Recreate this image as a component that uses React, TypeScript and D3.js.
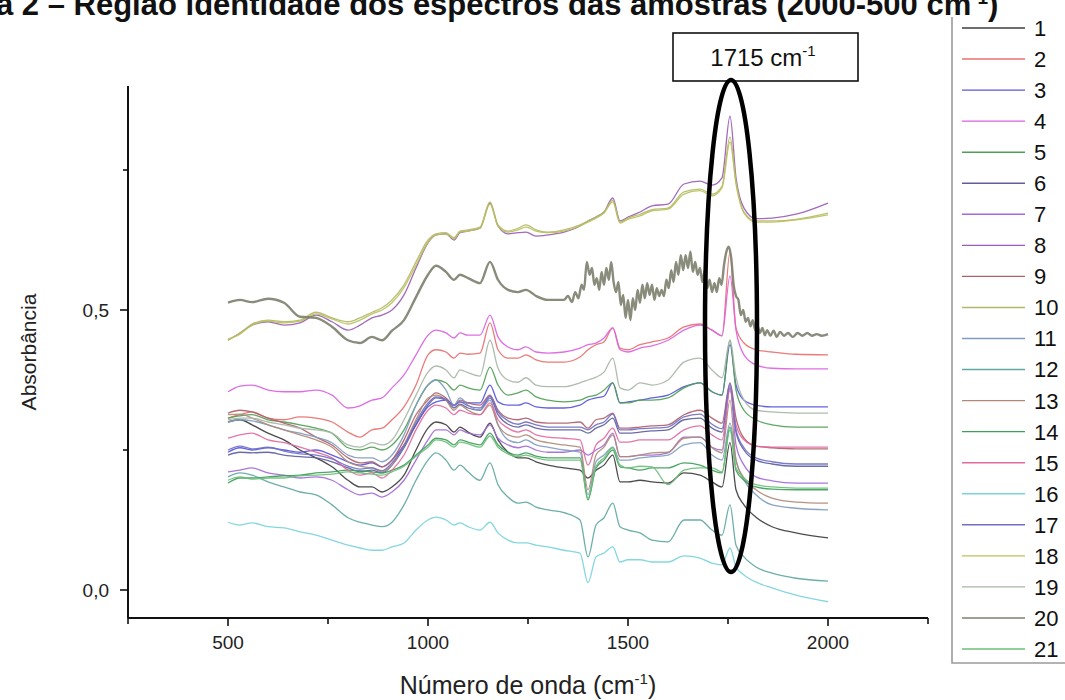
import React from "react";
import * as d3 from "d3";

// ---- data ----
const wavenumbers = [500, 530, 560, 600, 640, 680, 720, 760, 800, 830, 860, 885, 910, 940, 970, 1000, 1020, 1045, 1065, 1080, 1100, 1130, 1155, 1175, 1200, 1225, 1245, 1270, 1300, 1340, 1380, 1400, 1420, 1440, 1462, 1480, 1500, 1530, 1560, 1600, 1640, 1680, 1710, 1735, 1755, 1770, 1790, 1820, 1860, 1920, 2000];

const s1 = [0.300,0.304,0.295,0.280,0.268,0.250,0.236,0.220,0.196,0.184,0.184,0.175,0.184,0.205,0.250,0.289,0.300,0.295,0.282,0.291,0.282,0.273,0.298,0.268,0.246,0.236,0.236,0.229,0.223,0.218,0.214,0.200,0.214,0.223,0.241,0.193,0.193,0.196,0.193,0.191,0.209,0.205,0.193,0.184,0.263,0.179,0.152,0.130,0.113,0.102,0.093];
const s2 = [0.307,0.313,0.318,0.307,0.304,0.309,0.307,0.300,0.282,0.273,0.286,0.289,0.304,0.327,0.366,0.420,0.429,0.425,0.414,0.423,0.421,0.423,0.477,0.429,0.414,0.414,0.420,0.411,0.407,0.407,0.416,0.429,0.438,0.443,0.468,0.432,0.429,0.438,0.443,0.450,0.470,0.475,0.464,0.454,0.604,0.468,0.441,0.429,0.425,0.421,0.420];
const s3 = [0.246,0.254,0.250,0.254,0.250,0.246,0.250,0.241,0.229,0.223,0.227,0.220,0.232,0.259,0.295,0.327,0.336,0.339,0.330,0.336,0.334,0.334,0.366,0.336,0.330,0.330,0.334,0.327,0.325,0.325,0.330,0.339,0.343,0.346,0.370,0.334,0.336,0.339,0.343,0.348,0.363,0.370,0.354,0.348,0.438,0.366,0.339,0.330,0.327,0.327,0.327];
const s4 = [0.354,0.364,0.366,0.357,0.354,0.354,0.357,0.348,0.325,0.329,0.339,0.343,0.361,0.384,0.420,0.455,0.464,0.459,0.450,0.459,0.455,0.455,0.491,0.452,0.434,0.429,0.434,0.425,0.423,0.425,0.432,0.438,0.441,0.450,0.468,0.429,0.425,0.432,0.436,0.446,0.464,0.473,0.464,0.454,0.561,0.464,0.420,0.402,0.396,0.395,0.395];
const s5 = [0.307,0.311,0.313,0.304,0.300,0.295,0.289,0.280,0.254,0.250,0.255,0.250,0.259,0.286,0.330,0.366,0.375,0.370,0.357,0.366,0.361,0.357,0.398,0.366,0.348,0.352,0.357,0.345,0.339,0.336,0.339,0.345,0.348,0.357,0.370,0.334,0.334,0.339,0.339,0.343,0.361,0.370,0.354,0.348,0.446,0.357,0.321,0.304,0.295,0.291,0.291];
const s6 = [0.241,0.246,0.245,0.246,0.241,0.238,0.236,0.229,0.218,0.211,0.214,0.209,0.223,0.254,0.295,0.330,0.343,0.339,0.325,0.332,0.325,0.321,0.343,0.313,0.296,0.291,0.295,0.289,0.286,0.286,0.286,0.280,0.289,0.295,0.307,0.280,0.280,0.282,0.284,0.286,0.304,0.307,0.289,0.282,0.361,0.282,0.250,0.232,0.225,0.221,0.221];
const s7 = [0.211,0.214,0.218,0.209,0.205,0.200,0.202,0.196,0.179,0.170,0.173,0.166,0.175,0.196,0.232,0.268,0.286,0.286,0.277,0.286,0.280,0.277,0.295,0.271,0.259,0.254,0.257,0.250,0.246,0.246,0.250,0.241,0.250,0.259,0.280,0.238,0.238,0.241,0.241,0.245,0.273,0.273,0.255,0.250,0.366,0.259,0.223,0.202,0.195,0.191,0.191];
const s8 = [0.446,0.459,0.473,0.479,0.473,0.477,0.491,0.479,0.464,0.473,0.486,0.491,0.500,0.527,0.575,0.620,0.634,0.636,0.625,0.638,0.641,0.646,0.691,0.650,0.636,0.638,0.639,0.632,0.634,0.639,0.650,0.659,0.666,0.675,0.700,0.659,0.666,0.675,0.686,0.689,0.725,0.730,0.723,0.736,0.846,0.736,0.682,0.663,0.664,0.671,0.691];
const s9 = [0.316,0.321,0.318,0.307,0.298,0.289,0.273,0.259,0.236,0.227,0.229,0.220,0.232,0.268,0.313,0.339,0.352,0.343,0.330,0.339,0.334,0.330,0.348,0.321,0.307,0.304,0.307,0.300,0.298,0.298,0.300,0.289,0.304,0.307,0.316,0.289,0.289,0.291,0.293,0.295,0.313,0.321,0.307,0.298,0.370,0.307,0.271,0.257,0.254,0.252,0.252];
const s10 = [0.446,0.459,0.475,0.482,0.479,0.482,0.496,0.486,0.479,0.486,0.496,0.504,0.518,0.545,0.586,0.625,0.636,0.638,0.629,0.641,0.643,0.648,0.693,0.652,0.641,0.646,0.652,0.643,0.639,0.643,0.652,0.659,0.666,0.675,0.696,0.657,0.664,0.671,0.679,0.682,0.711,0.716,0.707,0.721,0.809,0.729,0.675,0.659,0.659,0.662,0.673];
const s11 = [0.300,0.304,0.302,0.295,0.286,0.280,0.273,0.263,0.241,0.236,0.236,0.229,0.241,0.277,0.330,0.366,0.375,0.357,0.330,0.343,0.330,0.321,0.339,0.295,0.268,0.263,0.268,0.259,0.255,0.250,0.246,0.170,0.229,0.241,0.255,0.232,0.232,0.236,0.238,0.241,0.259,0.263,0.241,0.232,0.298,0.232,0.196,0.170,0.152,0.146,0.143];
const s12 = [0.202,0.209,0.205,0.193,0.184,0.175,0.170,0.152,0.129,0.121,0.116,0.113,0.121,0.152,0.196,0.232,0.245,0.232,0.214,0.223,0.211,0.196,0.227,0.188,0.166,0.155,0.157,0.148,0.143,0.138,0.125,0.059,0.116,0.129,0.155,0.113,0.107,0.102,0.089,0.086,0.125,0.125,0.107,0.098,0.152,0.080,0.059,0.041,0.030,0.021,0.016];
const s13 = [0.313,0.314,0.307,0.295,0.286,0.277,0.268,0.255,0.229,0.221,0.218,0.211,0.223,0.259,0.304,0.343,0.348,0.339,0.321,0.330,0.321,0.313,0.330,0.295,0.277,0.273,0.277,0.268,0.263,0.259,0.255,0.179,0.241,0.255,0.277,0.238,0.238,0.241,0.245,0.246,0.271,0.273,0.254,0.245,0.339,0.232,0.200,0.179,0.164,0.157,0.155];
const s14 = [0.191,0.200,0.200,0.202,0.204,0.205,0.209,0.211,0.214,0.213,0.211,0.209,0.214,0.223,0.241,0.259,0.271,0.268,0.259,0.268,0.264,0.259,0.280,0.259,0.246,0.241,0.245,0.239,0.236,0.236,0.236,0.161,0.218,0.232,0.250,0.220,0.218,0.214,0.218,0.218,0.227,0.223,0.214,0.209,0.291,0.214,0.196,0.184,0.180,0.179,0.179];
const s15 = [0.271,0.277,0.280,0.268,0.263,0.255,0.246,0.236,0.214,0.205,0.209,0.200,0.214,0.241,0.286,0.321,0.330,0.325,0.313,0.321,0.316,0.313,0.334,0.304,0.289,0.282,0.286,0.277,0.273,0.271,0.268,0.223,0.259,0.271,0.289,0.264,0.264,0.268,0.268,0.268,0.286,0.293,0.277,0.268,0.357,0.295,0.268,0.257,0.255,0.255,0.255];
const s16 = [0.121,0.116,0.120,0.113,0.111,0.104,0.098,0.089,0.080,0.075,0.071,0.071,0.077,0.084,0.107,0.125,0.130,0.125,0.116,0.120,0.113,0.107,0.121,0.102,0.089,0.084,0.084,0.080,0.077,0.071,0.066,0.013,0.059,0.066,0.077,0.050,0.054,0.054,0.050,0.050,0.061,0.057,0.048,0.045,0.075,0.041,0.027,0.014,0.004,-0.009,-0.021];
const s17 = [0.250,0.257,0.252,0.255,0.248,0.243,0.241,0.234,0.221,0.216,0.218,0.213,0.227,0.257,0.300,0.334,0.345,0.341,0.329,0.336,0.329,0.325,0.346,0.318,0.302,0.296,0.300,0.295,0.291,0.291,0.291,0.286,0.295,0.300,0.314,0.286,0.286,0.288,0.289,0.291,0.309,0.314,0.296,0.288,0.368,0.286,0.254,0.236,0.229,0.225,0.225];
const s18 = [0.448,0.457,0.473,0.480,0.477,0.480,0.493,0.484,0.475,0.482,0.493,0.500,0.513,0.540,0.580,0.621,0.634,0.636,0.627,0.639,0.641,0.646,0.689,0.650,0.639,0.643,0.648,0.641,0.638,0.641,0.650,0.657,0.664,0.673,0.693,0.655,0.662,0.668,0.677,0.680,0.707,0.713,0.704,0.718,0.800,0.725,0.673,0.657,0.657,0.661,0.670];
const s19 = [0.304,0.307,0.307,0.300,0.295,0.289,0.286,0.280,0.259,0.255,0.263,0.259,0.268,0.304,0.348,0.389,0.400,0.393,0.379,0.393,0.388,0.382,0.446,0.396,0.375,0.371,0.379,0.366,0.363,0.363,0.370,0.375,0.380,0.389,0.414,0.361,0.357,0.370,0.366,0.375,0.407,0.414,0.393,0.379,0.446,0.380,0.339,0.321,0.318,0.316,0.316];
const s21 = [0.196,0.202,0.198,0.200,0.200,0.204,0.205,0.207,0.211,0.209,0.207,0.205,0.211,0.221,0.239,0.255,0.268,0.264,0.255,0.264,0.261,0.255,0.275,0.255,0.243,0.238,0.241,0.236,0.232,0.232,0.232,0.164,0.221,0.236,0.254,0.223,0.218,0.221,0.220,0.188,0.214,0.218,0.218,0.211,0.286,0.218,0.200,0.188,0.184,0.182,0.182];

// sample 20 (noisy spectrum) has its own, denser wavenumber grid
const wavenumbers20 = [500,530,560,600,640,680,720,760,800,830,860,885,910,940,970,1000,1020,1045,1065,1080,1100,1130,1155,1175,1200,1225,1245,1270,1300,1340,1350,1360,1368,1376,1384,1390,1397,1404,1410,1416,1422,1428,1434,1440,1446,1452,1458,1464,1470,1476,1482,1488,1494,1500,1506,1512,1518,1524,1530,1536,1542,1548,1554,1560,1566,1572,1578,1584,1590,1596,1602,1608,1614,1620,1626,1632,1638,1644,1650,1656,1662,1668,1674,1680,1686,1692,1698,1704,1710,1716,1722,1728,1734,1740,1746,1752,1758,1764,1770,1776,1782,1788,1794,1800,1806,1812,1818,1824,1830,1836,1842,1848,1856,1864,1872,1880,1890,1900,1912,1924,1936,1948,1960,1972,1984,2000];
const s20 = [0.513,0.518,0.514,0.520,0.513,0.488,0.486,0.470,0.446,0.441,0.452,0.446,0.463,0.482,0.523,0.563,0.579,0.568,0.554,0.563,0.557,0.548,0.586,0.554,0.536,0.532,0.536,0.525,0.518,0.518,0.525,0.514,0.532,0.521,0.545,0.536,0.586,0.563,0.575,0.545,0.557,0.536,0.568,0.545,0.575,0.554,0.586,0.550,0.532,0.550,0.509,0.527,0.486,0.518,0.482,0.521,0.500,0.536,0.513,0.545,0.521,0.548,0.527,0.545,0.518,0.539,0.525,0.536,0.525,0.554,0.539,0.571,0.550,0.586,0.563,0.598,0.571,0.598,0.575,0.604,0.568,0.586,0.563,0.575,0.550,0.571,0.539,0.554,0.532,0.548,0.532,0.557,0.545,0.580,0.604,0.613,0.593,0.545,0.525,0.518,0.491,0.500,0.479,0.486,0.471,0.482,0.464,0.471,0.459,0.468,0.455,0.464,0.454,0.463,0.452,0.461,0.454,0.459,0.452,0.459,0.454,0.459,0.454,0.457,0.454,0.457];

const sampleNames = ["1","2","3","4","5","6","7","8","9","10","11","12","13","14","15","16","17","18","19","20","21"];
const sampleColors = ["#3d3d3d","#e8706e","#5656dc","#dc62e2","#4f9f55","#5e5ea0","#a36ad8","#9a5cb6","#b0606a","#b4b86a","#7f9cc0","#5fa8a2","#b08a78","#3e9e5a","#e26aa0","#7ad4dc","#7070c8","#b8c25a","#a8b6a6","#7f8170","#6cbf78"];

const xTicks = [250, 500, 750, 1000, 1250, 1500, 1750, 2000, 2250];
const xTickLabels = [500, 1000, 1500, 2000];
const yTicks = [0, 0.25, 0.5, 0.75];
const yTickLabels = [0, 0.5];

const FONT = "'Liberation Sans', Arial, sans-serif";

export default function App() {
  const x = d3.scaleLinear().domain([250, 2250]).range([128, 928]);
  const y = d3.scaleLinear().domain([-0.05, 0.9]).range([618, 86]);
  const line = d3
    .line<[number, number]>()
    .x((d) => x(d[0]))
    .y((d) => y(d[1]))
    .curve(d3.curveMonotoneX);

  const all = [s1, s2, s3, s4, s5, s6, s7, s8, s9, s10, s11, s12, s13, s14, s15, s16, s17, s18, s19, s20, s21];
  const paths = all.map((vals, i) => {
    const wn = i === 19 ? wavenumbers20 : wavenumbers;
    const pts: [number, number][] = vals.map((v, j) => [wn[j], v]);
    return line(pts) || "";
  });
  const fmt = (v: number) => d3.format(".1f")(v).replace(".", ",");
  const [x0, x1] = x.range();
  const [yb, yt] = y.range();

  const legendY = d3.scaleLinear().domain([0, 20]).range([28, 649]);

  return (
    <svg width={1065} height={700} style={{ position: "absolute", left: 0, top: 0, background: "#fff" }} fontFamily={FONT}>
      <rect x={0} y={0} width={1065} height={700} fill="#fff" />

      {/* legend frame (drawn first so the title runs over it, as in the source) */}
      <path d="M952,17 V663 H1065" fill="none" stroke="#9a9a9a" strokeWidth={1.6} />

      {/* title (cut at top edge, as in the source figure) */}
      <text x={-4} y={15} fontSize={31} fontWeight="bold" fill="#111">
        a 2 – Região identidade dos espectros das amostras (2000-500 cm
        <tspan dy={-11} fontSize={19}>-1</tspan>
        <tspan dy={11}>)</tspan>
      </text>

      {/* spectra */}
      <g fill="none">
        {paths.map((p, i) => (
          <path key={i} d={p} stroke={sampleColors[i]} strokeWidth={i === 19 ? 2.4 : 1.3} strokeOpacity={0.92} strokeLinejoin="round" />
        ))}
      </g>

      {/* axes */}
      <line x1={x0} x2={x1} y1={yb} y2={yb} stroke="#111" strokeWidth={2} />
      <line x1={x0} x2={x0} y1={yb} y2={yt} stroke="#111" strokeWidth={2} />
      {xTicks.map((t) => (
        <line key={t} x1={x(t)} x2={x(t)} y1={yb} y2={yb + (xTickLabels.includes(t) ? 8 : 6)} stroke="#111" strokeWidth={1.6} />
      ))}
      {xTickLabels.map((t) => (
        <text key={t} x={x(t)} y={yb + 31} fontSize={19} textAnchor="middle" fill="#222">{t}</text>
      ))}
      {yTicks.map((t) => (
        <line key={t} x1={x0} x2={x0 - (yTickLabels.includes(t) ? 8 : 5)} y1={y(t)} y2={y(t)} stroke="#111" strokeWidth={1.6} />
      ))}
      {yTickLabels.map((t) => (
        <text key={t} x={x0 - 19} y={y(t)} dy="0.35em" fontSize={19} textAnchor="end" fill="#222">{fmt(t)}</text>
      ))}
      <text transform={`translate(36,352) rotate(-90)`} fontSize={21} textAnchor="middle" fill="#222">Absorbância</text>
      <text x={528} y={694} fontSize={25} textAnchor="middle" fill="#222">
        Número de onda (cm<tspan dy={-10} fontSize={15}>-1</tspan><tspan dy={10}>)</tspan>
      </text>

      {/* annotation */}
      <rect x={673} y={33} width={185} height={48} fill="#fff" stroke="#111" strokeWidth={1.6} />
      <text x={763} y={66} fontSize={24} textAnchor="middle" fill="#111">
        1715 cm<tspan dy={-10} fontSize={15}>-1</tspan>
      </text>
      <ellipse cx={731} cy={326} rx={26} ry={246} fill="none" stroke="#000" strokeWidth={4.5} />

      {/* legend entries */}
      {sampleNames.map((n, i) => (
        <g key={n}>
          <line x1={962} x2={1025} y1={legendY(i)} y2={legendY(i)} stroke={sampleColors[i]} strokeWidth={1.4} />
          <text x={1034} y={legendY(i)} dy="0.36em" fontSize={22} fill="#111">{n}</text>
        </g>
      ))}
    </svg>
  );
}
